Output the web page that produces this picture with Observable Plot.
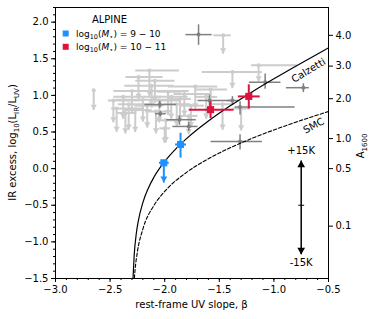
<!DOCTYPE html>
<html><head><meta charset="utf-8">
<script src="https://cdn.jsdelivr.net/npm/d3@7"></script>
<script src="https://cdn.jsdelivr.net/npm/@observablehq/plot@0.6"></script>
<style>body{margin:0;background:#fff;} #chart{width:374px;height:319px;}</style>
</head><body><div id="chart"></div>
<script>
// ---------- data ----------
// Calzetti curve (beta, IRX)
const calzBeta = [-2.29, -2.28, -2.26, -2.24, -2.2, -2.15, -2.1, -2.0, -1.9, -1.8, -1.6, -1.4, -1.2, -1.0, -0.8, -0.6, -0.5];
const calzIrx  = [-1.50, -1.195, -0.886, -0.702, -0.463, -0.267, -0.121, 0.098, 0.267, 0.409, 0.649, 0.857, 1.047, 1.226, 1.398, 1.566, 1.649];
// SMC curve
const smcBeta = [-2.278, -2.27, -2.25, -2.2, -2.1, -2.0, -1.8, -1.6, -1.4, -1.2, -1.0, -0.8, -0.5];
const smcIrx  = [-1.50, -1.36, -1.136, -0.825, -0.506, -0.311, -0.051, 0.135, 0.285, 0.413, 0.528, 0.634, 0.780];

// light grey upper limits
const limBeta = [-2.65, -2.14, -2.09, -2.12, -2.30, -2.38, -2.20, -2.44, -2.33, -2.27, -2.16, -2.05, -1.99, -2.08, -1.94, -1.89, -1.82, -1.76, -1.72, -1.465, -1.14, -1.38, -1.47, -1.30, -1.58, -1.62, -2.00, -2.47, -1.78, -2.24, -1.97, -2.36, -1.86];
const limIrx  = [1.07, 1.34, 1.20, 1.13, 1.06, 0.98, 0.94, 0.82, 0.88, 0.80, 0.86, 0.93, 0.66, 0.78, 0.98, 0.88, 1.02, 0.86, 1.12, 1.82, 1.41, 1.32, 0.88, 0.82, 1.08, 0.98, 0.55, 0.93, 0.72, 1.25, 1.05, 0.76, 0.95];
const limBlo  = [0, 0.13, 0.18, 0.25, 0.17, 0.09, 0.25, 0.05, 0.10, 0.10, 0.12, 0.10, 0.08, 0.10, 0.15, 0.12, 0.10, 0.10, 0.25, 0.09, 0.07, 0.28, 0.10, 0.08, 0.15, 0.10, 0.05, 0.05, 0.08, 0.12, 0.10, 0.08, 0.12];
const limBhi  = [0, 0.27, 0.18, 0.20, 0.52, 0.35, 0.30, 0.25, 0.20, 0.15, 0.15, 0.20, 0.10, 0.12, 0.15, 0.12, 0.25, 0.12, 0.20, 0.07, 0.35, 0.27, 0.10, 0.08, 0.15, 0.10, 0.05, 0.25, 0.08, 0.22, 0.12, 0.10, 0.10];
const limLen  = [0.27, 0.35, 0.30, 0.30, 0.30, 0.30, 0.30, 0.32, 0.35, 0.30, 0.30, 0.30, 0.30, 0.30, 0.30, 0.30, 0.30, 0.30, 0.30, 0.25, 0.22, 0.22, 0.35, 0.30, 0.30, 0.30, 0.20, 0.30, 0.25, 0.30, 0.32, 0.28, 0.30];

// dark grey detections
const detBeta = [-1.69, -1.08, -0.73, -2.045, -2.04, -1.865, -1.78, -1.59, -1.38, -1.31, -1.31];
const detIrx  = [1.83, 1.18, 1.105, 0.877, 0.75, 0.668, 0.576, 0.93, 0.93, 0.37, 0.84];
const detBlo  = [0.12, 0.15, 0.16, 0.14, 0.05, 0.12, 0.15, 0.11, 0.05, 0.27, 0.05];
const detBhi  = [0.12, 0.14, 0.05, 0.15, 0.05, 0.15, 0.08, 0.21, 0.05, 0.20, 0.50];
const detYlo  = [0.14, 0.09, 0.06, 0.05, 0.04, 0.07, 0.06, 0.08, 0.06, 0.11, 0.10];
const detYhi  = [0.14, 0.12, 0.06, 0.05, 0.04, 0.06, 0.06, 0.08, 0.06, 0.10, 0.08];

// ALPINE stacks
const stackGroup = ["9-10", "9-10", "10-11", "10-11"];
const stackBeta  = [-1.855, -2.008, -1.58, -1.23];
const stackIrx   = [0.33, 0.08, 0.805, 0.986];
const stackBlo   = [0.05, 0.045, 0.20, 0.10];
const stackBhi   = [0.05, 0.045, 0.21, 0.10];
const stackYlo   = [0.18, 0.27, 0.115, 0.165];
const stackYhi   = [0.16, 0.02, 0.115, 0.165];
const stackLimit = [false, true, false, false];
const groupColor = {"9-10": "#1e90ff", "10-11": "#dc143c"};

// temperature arrow
const arrowBeta = -0.75, arrowTop = 0.11, arrowMid = -0.50, arrowBottom = -1.17;
const arrowLabels = ["+15K", "-15K"];
const arrowLabelIrx = [0.24, -1.28];

// curve labels
const curveLabels = ["Calzetti", "SMC"];
const curveLabelBeta = [-0.683, -0.635];
const curveLabelIrx = [1.34, 0.586];
const curveLabelRot = [-31, -28];

// axes
const xTicks = [-3.0, -2.5, -2.0, -1.5, -1.0, -0.5];
const yTicks = [2.0, 1.5, 1.0, 0.5, 0.0, -0.5, -1.0, -1.5];
const aTickLabels = ["0.1", "0.5", "1.0", "2.0", "3.0", "4.0"];
const aTickIrx = [-0.785, 0.0, 0.41, 0.955, 1.40, 1.82];

// ---------- build tables ----------
const calz = calzBeta.map((b, i) => ({b, y: calzIrx[i]}));
const smc = smcBeta.map((b, i) => ({b, y: smcIrx[i]}));
const lims = limBeta.map((b, i) => ({b, y: limIrx[i], b1: b - limBlo[i], b2: b + limBhi[i], yt: limIrx[i] - limLen[i]}));
const dets = detBeta.map((b, i) => ({b, y: detIrx[i], b1: b - detBlo[i], b2: b + detBhi[i], y1: detIrx[i] - detYlo[i], y2: detIrx[i] + detYhi[i]}));
const stacks = stackBeta.map((b, i) => ({g: stackGroup[i], b, y: stackIrx[i], b1: b - stackBlo[i], b2: b + stackBhi[i], y1: stackIrx[i] - stackYlo[i], y2: stackIrx[i] + stackYhi[i], lim: stackLimit[i]}));
const aMap = new Map(aTickIrx.map((v, i) => [v, aTickLabels[i]]));
const fmt = d => d.toFixed(1).replace("-", "\u2212");

const LG = "#cccccc", DG = "#808080";
const F = "DejaVu Sans";

const plot = Plot.plot({
  width: 374, height: 319,
  marginLeft: 55, marginRight: 46, marginTop: 7, marginBottom: 41,
  style: {fontFamily: F, fontSize: "10px", background: "white", color: "black"},
  x: {domain: [-3, -0.5]},
  y: {domain: [-1.5, 2.2]},
  marks: [
    // light grey upper limits
    Plot.link(lims, {x1: "b1", x2: "b2", y1: "y", y2: "y", stroke: LG, strokeWidth: 2}),
    Plot.link(lims, {x1: "b", x2: "b", y1: "y", y2: "yt", stroke: LG, strokeWidth: 2}),
    Plot.dot(lims, {x: "b", y: "yt", symbol: "triangle", rotate: 180, r: 2.3, dy: -3.5, fill: LG, stroke: "none"}),
    Plot.dot(lims, {x: "b", y: "y", r: 2, fill: LG, stroke: "none"}),
    // dark grey detections
    Plot.link(dets, {x1: "b1", x2: "b2", y1: "y", y2: "y", stroke: DG, strokeWidth: 1.5}),
    Plot.link(dets, {x1: "b", x2: "b", y1: "y1", y2: "y2", stroke: DG, strokeWidth: 1.5}),
    Plot.dot(dets, {x: "b", y: "y", r: 2, fill: DG, stroke: "none"}),
    // curves
    Plot.line(calz, {x: "b", y: "y", curve: "monotone-x", stroke: "black", strokeWidth: 1.2, clip: true}),
    Plot.line(smc, {x: "b", y: "y", curve: "monotone-x", stroke: "black", strokeWidth: 1.1, strokeDasharray: "3.5,2", clip: true}),
    Plot.text(curveLabels.map((t, i) => ({t, b: curveLabelBeta[i], y: curveLabelIrx[i], r: curveLabelRot[i]})),
      {x: "b", y: "y", text: "t", rotate: "r", fontSize: 10, fill: "black"}),
    // ALPINE stacks
    Plot.link(stacks, {x1: "b1", x2: "b2", y1: "y", y2: "y", stroke: d => groupColor[d.g], strokeWidth: 2}),
    Plot.link(stacks, {x1: "b", x2: "b", y1: "y1", y2: "y2", stroke: d => groupColor[d.g], strokeWidth: 2}),
    Plot.dot(stacks.filter(d => d.lim), {x: "b", y: "y1", symbol: "triangle", rotate: 180, r: 2.6, dy: -4, fill: d => groupColor[d.g], stroke: "none"}),
    Plot.dot(stacks, {x: "b", y: "y", symbol: "square", r: 4, fill: d => groupColor[d.g], stroke: "none"}),
    // temperature arrow
    Plot.link([{b: arrowBeta, y1: arrowTop, y2: arrowBottom}], {x1: "b", x2: "b", y1: "y1", y2: "y2", stroke: "black", strokeWidth: 1.5}),
    Plot.dot([{b: arrowBeta, y: arrowTop}], {x: "b", y: "y", symbol: "triangle", r: 2.86, dy: 4.4, fill: "black", stroke: "none"}),
    Plot.dot([{b: arrowBeta, y: arrowBottom}], {x: "b", y: "y", symbol: "triangle", rotate: 180, r: 2.86, dy: -4.4, fill: "black", stroke: "none"}),
    Plot.link([{b1: arrowBeta - 0.027, b2: arrowBeta + 0.027, y: arrowMid}], {x1: "b1", x2: "b2", y1: "y", y2: "y", stroke: "black", strokeWidth: 1}),
    Plot.text(arrowLabels.map((t, i) => ({t, y: arrowLabelIrx[i]})), {x: () => arrowBeta, y: "y", text: "t", fontSize: 10, fill: "black"}),
    // axes
    Plot.frame({stroke: "black", strokeWidth: 1}),
    Plot.axisX({ticks: xTicks, tickFormat: fmt, tickSize: 4, tickPadding: 3, label: null, fontSize: 10}),
    Plot.axisX({ticks: d3.ticks(-3, -0.5, 25), tickFormat: () => "", tickSize: 2, label: null}),
    Plot.axisY({ticks: yTicks, tickFormat: fmt, tickSize: 4, tickPadding: 3, label: null, fontSize: 10}),
    Plot.axisY({ticks: d3.ticks(-1.5, 2.2, 37), tickFormat: () => "", tickSize: 2, label: null}),
    Plot.axisY({anchor: "right", ticks: aTickIrx, tickFormat: d => aMap.get(d), tickSize: 4, tickPadding: 3, label: null, fontSize: 10})
  ]
});

document.getElementById("chart").appendChild(plot);
const svg = d3.select(plot);

function addText(sel, parts, attrs) {
  const t = sel.append("text").attr("font-family", F).attr("fill", "black").attr("text-anchor", "start");
  for (const k in attrs) t.attr(k, attrs[k]);
  let shift = 0;
  for (const p of parts) {
    const ts = t.append("tspan").text(p.t);
    const target = p.sub ? 2.5 : 0;
    ts.attr("dy", target - shift);
    shift = target;
    if (p.sub) ts.attr("font-size", p.size || 7);
    if (p.it) ts.attr("font-style", "italic");
  }
  return t;
}

// y label
addText(svg, [{t: "IR excess, log"}, {t: "10", sub: true}, {t: "(L"}, {t: "IR", sub: true}, {t: "/L"}, {t: "UV", sub: true}, {t: ")"}],
  {transform: "translate(16,142.5) rotate(-90)", "text-anchor": "middle", "font-size": 10});
// x label
addText(svg, [{t: "rest-frame UV slope, \u03b2"}], {x: 191.5, y: 308, "text-anchor": "middle", "font-size": 10});
// right label
addText(svg, [{t: "A"}, {t: "1600", sub: true}], {transform: "translate(364,146) rotate(-90)", "text-anchor": "middle", "font-size": 10});

// legend
const lg = svg.append("g");
addText(lg, [{t: "ALPINE"}], {x: 109.5, y: 23, "text-anchor": "middle", "font-size": 10});
const legendGroups = ["9-10", "10-11"];
const legendLabels = [["9", "10"], ["10", "11"]];
legendGroups.forEach((g, i) => {
  const yb = 36.5 + i * 13.3;
  lg.append("rect").attr("x", 62.7).attr("y", yb - 6).attr("width", 6).attr("height", 6).attr("fill", groupColor[g]);
  addText(lg, [{t: "log"}, {t: "10", sub: true, size: 6.5}, {t: "("}, {t: "M", it: true}, {t: "\u22c6", sub: true, size: 6.5}, {t: ") = " + legendLabels[i][0] + " \u2212 " + legendLabels[i][1]}],
    {x: 76, y: yb, "font-size": 9});
});
</script>
</body></html>
